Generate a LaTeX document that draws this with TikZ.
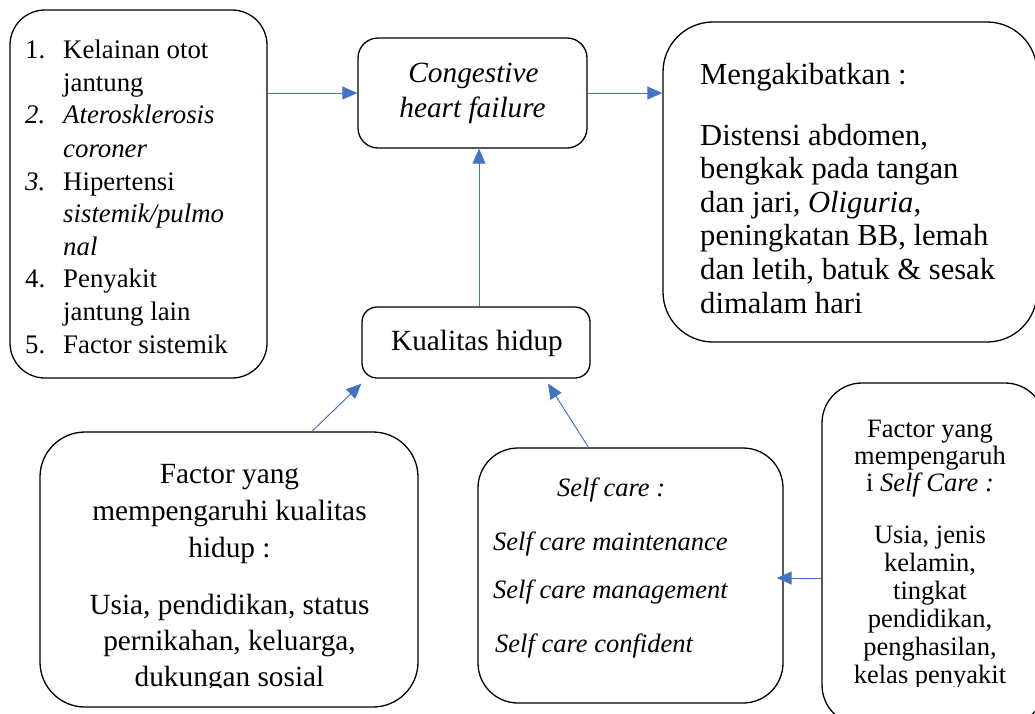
\documentclass[tikz,border=0pt]{standalone}
\usepackage{fontspec}
\setmainfont{Liberation Serif}
\usetikzlibrary{positioning, arrows.meta}
\definecolor{linkblue}{RGB}{68,114,196}

\tikzset{
    box/.style={draw, line width=1.3pt, inner sep=0pt},
    link/.style={linkblue, line width=1pt, -{Triangle[length=15pt, width=13pt]}},
    ltxt/.style={inner sep=0pt, anchor=base west},
    ctxt/.style={inner sep=0pt, anchor=base},
    listfont/.style={font=\fontsize{26.8}{32}\selectfont},
    bigfont/.style={font=\fontsize{29.3}{35}\selectfont},
    efffont/.style={font=\fontsize{30.6}{34}\selectfont},
    smallfont/.style={font=\fontsize{26.5}{30}\selectfont}
}

\begin{document}
\begin{tikzpicture}[x=1pt, y=-1pt]
    \useasboundingbox (0,0) rectangle (1035,713);

    % Boxes
    \node[box, minimum width=257pt, minimum height=368pt, rounded corners=35pt] (causes) at (138.5,194) {};
    \node[box, minimum width=229pt, minimum height=110pt, rounded corners=20pt] (chf) at (472.5,93) {};
    \node[box, minimum width=374pt, minimum height=320pt, rounded corners=50pt] (effects) at (850,182) {};
    \node[box, minimum width=228pt, minimum height=71pt, rounded corners=15pt] (qol) at (476,342.5) {};
    \node[box, minimum width=378pt, minimum height=275pt, rounded corners=45pt] (qolfactors) at (229,569.5) {};
    \node[box, minimum width=305pt, minimum height=255pt, rounded corners=40pt] (selfcare) at (630.5,575.5) {};
    \node[box, minimum width=223pt, minimum height=342pt, rounded corners=40pt] (scfactors) at (933.5,554) {};

    % Causes list
    \foreach \yy/\num in {58/1., 123/\textit{2.}, 190/\textit{3.}, 287/4., 353/5.}
        \node[ltxt, listfont] (num\yy) at (25,\yy) {\num};
    \foreach \yy/\txt [count=\k] in {58/Kelainan otot, 91/jantung, 123/\textit{Aterosklerosis},
        157/\textit{coroner}, 190/Hipertensi, 222/{\textit{sistemik/pulmo}}, 255/\textit{nal},
        287/Penyakit, 320/jantung lain, 353/Factor sistemik}
        \node[ltxt, listfont] (cause\k) at (63,\yy) {\txt};

    % Congestive heart failure
    \node[ctxt, bigfont] (chf1) at (473.5,82) {\textit{Congestive}};
    \node[ctxt, bigfont] (chf2) at (472.5,117) {\textit{heart failure}};

    % Effects
    \node[ltxt, efffont] (effhead) at (700,84) {Mengakibatkan :};
    \foreach \txt [count=\k] in {{Distensi abdomen,}, {bengkak pada tangan}, {dan jari, \textit{Oliguria},},
        {peningkatan BB, lemah}, {dan letih, batuk \& sesak}, {dimalam hari}}
        \node[ltxt, efffont] (eff\k) at (700,111.4+33.6*\k) {\txt};

    % Kualitas hidup
    \node[ctxt, bigfont] (qoltext) at (477,350) {Kualitas hidup};

    % Factors of quality of life (last line cut by the box)
    \begin{scope}
        \clip (30,420) rectangle (430,687);
        \foreach \yy/\txt [count=\k] in {483/Factor yang, 520/mempengaruhi kualitas, 557/hidup :,
            614/{Usia, pendidikan, status}, 650/{pernikahan, keluarga,}, 686/dukungan sosial}
            \node[ctxt, bigfont] (qf\k) at (229.5,\yy) {\txt};
    \end{scope}

    % Self care
    \node[ltxt, smallfont] (sctitle) at (557,496) {\textit{Self care :}};
    \foreach \yy/\xx/\txt [count=\k] in {550/493/maintenance, 598/493/management, 652/495/confident}
        \node[ltxt, smallfont] (sc\k) at (\xx,\yy) {\textit{Self care \txt}};

    % Factors of self care (last line cut by the box)
    \begin{scope}
        \clip (820,380) rectangle (1035,686);
        \foreach \yy/\txt [count=\k] in {437/Factor yang, 464/mempengaruh, 491/i \textit{Self Care :},
            543/{Usia, jenis}, 571/{kelamin,}, 599/tingkat, 627/{pendidikan,}, 655/{penghasilan,},
            683/kelas penyakit}
            \node[ctxt, smallfont] (sf\k) at (930,\yy) {\txt};
    \end{scope}

    % Connectors
    \draw[link] (causes.east |- chf.west) -- (chf.west);
    \draw[link] (chf.east) -- (effects.west |- chf.east);
    \draw[link] ([xshift=3pt]qol.north) -- ([xshift=3pt]qol.north |- chf.south);
    \draw[link] ([xshift=83pt]qolfactors.north) -- ([yshift=-5pt]qol.south west);
    \draw[link] ([xshift=-42pt]selfcare.north) -- ([xshift=72pt, yshift=-5pt]qol.south);
    \draw[link] ([yshift=-24pt]scfactors.west) -- ([xshift=-7pt, yshift=-2.5pt]selfcare.east);
\end{tikzpicture}
\end{document}
